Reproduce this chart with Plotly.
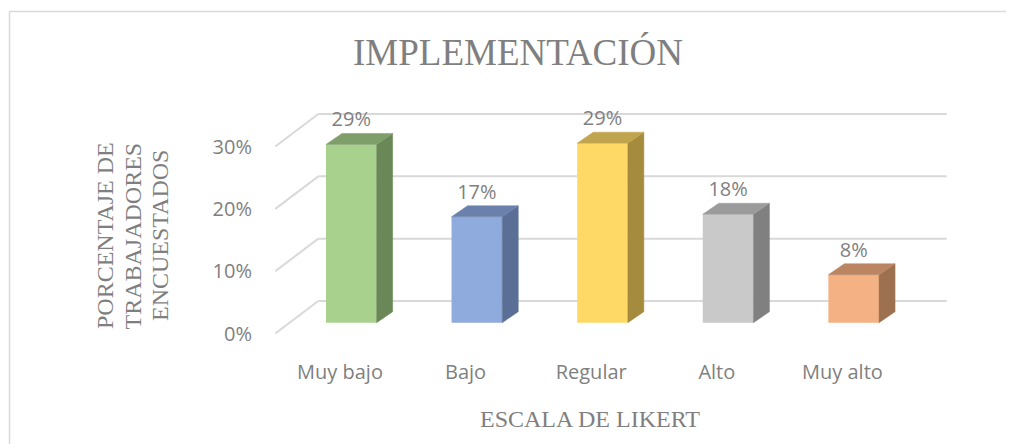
import plotly.graph_objects as go

# ---------------- data ----------------
categories = ["Muy bajo", "Bajo", "Regular", "Alto", "Muy alto"]
values = [28.6, 17.0, 28.8, 17.4, 7.7]          # percent
value_labels = ["29%", "17%", "29%", "18%", "8%"]
y_ticks = [0, 10, 20, 30]
y_tick_labels = ["0%", "10%", "20%", "30%"]
y_title_lines = ["PORCENTAJE DE", "TRABAJADORES", "ENCUESTADOS"]

front_colors = ["#A9D18E", "#8FAADC", "#FFD966", "#C9C9C9", "#F4B183"]
top_colors = ["#7F9F6A", "#6B81AC", "#C1A44E", "#9B9B9B", "#BB8562"]
side_colors = ["#6A8857", "#5A6E96", "#A48B3E", "#808080", "#9D7050"]

TEXT = "#7F7F7F"
GRID = "#D9D9D9"

# ---------------- geometry (page pixels; page body has an 8px margin) ----------------
OFF = 8
W, H = 1014 - OFF, 444 - OFF
PX_X0 = 351.3      # page x of first category (bar front centre)
PX_DX = 125.6      # pixels per category
PX_Y0 = 301.0      # page y of 0 % on the back wall
PX_DY = 6.233      # pixels per 1 %
L, R, T, B = 275, 1000, 80, 350   # plot area in page pixels


def dx(px):
    return px / PX_DX


def dy(px):
    return px / PX_DY


def paper_x(px):
    return (px - L) / (R - L)


def paper_y(py):
    return (B - py) / (B - T)


xrange_ = [(L - PX_X0) / PX_DX, (R - PX_X0) / PX_DX]
yrange_ = [(PX_Y0 - B) / PX_DY, (PX_Y0 - T) / PX_DY]

BAR_W = dx(50.7)
FRONT_SHIFT = dy(21.7)
SIDE_DX, SIDE_DY = dx(16), dy(11)
WALL_X0 = dx(318.3 - PX_X0)
WALL_X1 = dx(946.7 - PX_X0)
FLOOR_DX, FLOOR_DY = dx(-43), dy(-32.5)
LABEL_DX = dx(-11.3)
LABEL_DY = dy(23)

fig = go.Figure()

shapes = []
for v in y_ticks:
    shapes.append(dict(type="line", xref="x", yref="y", layer="below",
                       x0=WALL_X0, y0=v, x1=WALL_X1, y1=v,
                       line=dict(color=GRID, width=2)))
    shapes.append(dict(type="line", xref="x", yref="y", layer="below",
                       x0=WALL_X0, y0=v, x1=WALL_X0 + FLOOR_DX, y1=v + FLOOR_DY,
                       line=dict(color=GRID, width=2)))
# chart border (only top and left edges are visible in the reference)
shapes.append(dict(type="line", xref="paper", yref="paper", layer="below",
                   x0=paper_x(9.5), x1=paper_x(1014), y0=paper_y(11.5), y1=paper_y(11.5),
                   line=dict(color=GRID, width=1.5)))
shapes.append(dict(type="line", xref="paper", yref="paper", layer="below",
                   x0=paper_x(9.5), x1=paper_x(9.5), y0=paper_y(11.5), y1=paper_y(444),
                   line=dict(color=GRID, width=1.5)))

xs = list(range(len(categories)))

fig.add_trace(go.Bar(
    x=xs, y=values, base=-FRONT_SHIFT, width=BAR_W,
    marker=dict(color=front_colors, line=dict(width=0)),
    hoverinfo="skip", showlegend=False,
))

for i, v in enumerate(values):
    xl = i - BAR_W / 2
    xr = i + BAR_W / 2
    bot = -FRONT_SHIFT
    top = v - FRONT_SHIFT
    fig.add_trace(go.Scatter(
        x=[xr, xr + SIDE_DX, xr + SIDE_DX, xr, xr],
        y=[bot, bot + SIDE_DY, top + SIDE_DY, top, bot],
        mode="lines", fill="toself", fillcolor=side_colors[i],
        line=dict(width=0.5, color=side_colors[i]),
        hoverinfo="skip", showlegend=False,
    ))
    fig.add_trace(go.Scatter(
        x=[xl, xr, xr + SIDE_DX, xl + SIDE_DX, xl],
        y=[top, top, top + SIDE_DY, top + SIDE_DY, top],
        mode="lines", fill="toself", fillcolor=top_colors[i],
        line=dict(width=0.5, color=top_colors[i]),
        hoverinfo="skip", showlegend=False,
    ))

fig.add_trace(go.Scatter(
    x=xs, y=[v - FRONT_SHIFT + LABEL_DY for v in values],
    mode="text", text=value_labels, textposition="middle center",
    textfont=dict(family="Open Sans", size=20, color=TEXT),
    hoverinfo="skip", showlegend=False, cliponaxis=False,
))

annotations = [
    dict(text="IMPLEMENTACIÓN", xref="paper", yref="paper",
         x=paper_x(518), y=paper_y(53), xanchor="center", yanchor="middle",
         showarrow=False, font=dict(family="Liberation Serif", size=37, color=TEXT)),
    dict(text="ESCALA DE LIKERT", xref="paper", yref="paper",
         x=paper_x(590), y=paper_y(419), xanchor="center", yanchor="middle",
         showarrow=False, font=dict(family="Liberation Serif", size=24, color=TEXT)),
]
for k, line in enumerate(y_title_lines):
    annotations.append(dict(
        text=line, xref="paper", yref="paper",
        x=paper_x(105 + 27.5 * k), y=paper_y(236), xanchor="center", yanchor="middle",
        textangle=-90, showarrow=False,
        font=dict(family="Liberation Serif", size=24, color=TEXT)))

fig.update_layout(
    width=W, height=H,
    margin=dict(l=L - OFF, r=(W + OFF) - R, t=T - OFF, b=(H + OFF) - B, pad=0),
    paper_bgcolor="white", plot_bgcolor="white",
    showlegend=False, hovermode=False,
    shapes=shapes,
    xaxis=dict(range=xrange_, tickvals=[i + LABEL_DX for i in xs], ticktext=categories,
               showgrid=False, zeroline=False, showline=False,
               ticks="outside", ticklen=4, tickcolor="rgba(0,0,0,0)",
               tickfont=dict(family="Open Sans", size=20, color=TEXT)),
    yaxis=dict(range=yrange_, tickvals=[v + FLOOR_DY for v in y_ticks], ticktext=y_tick_labels,
               showgrid=False, zeroline=False, showline=False,
               ticks="outside", ticklen=18, tickcolor="rgba(0,0,0,0)",
               tickfont=dict(family="Open Sans", size=20, color=TEXT)),
    annotations=annotations,
)

fig.write_html("out.html")
